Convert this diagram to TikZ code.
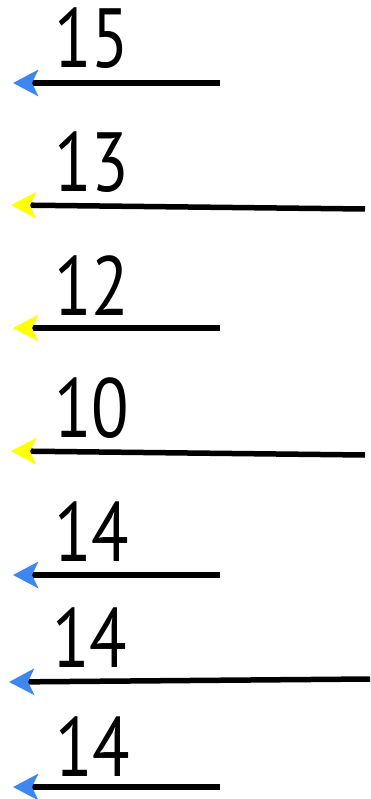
\documentclass[tikz,border=0pt]{standalone}
\usepackage{fontspec}
\setmainfont{PT Sans}
\usetikzlibrary{arrows.meta}
\definecolor{hblue}{HTML}{3F86F0}
\definecolor{hyellow}{HTML}{FFFF00}
\tikzset{
  num/.style={anchor=base west, inner sep=0pt, xscale=0.82, font=\fontsize{84}{84}\selectfont},
  arr/.style={line width=5.5pt, -{Stealth[length=25pt, width=26pt, inset=6pt, color=#1]}},
}
\begin{document}
\begin{tikzpicture}[x=1pt,y=-1pt]
\useasboundingbox (0,0) rectangle (370,799);
% labels
\node[num] (n1) at (54,68) {15};
\node[num] (n2) at (54,192) {13};
\node[num] (n3) at (54,315) {12};
\node[num] (n4) at (54,437) {10};
\node[num] (n5) at (54,561) {14};
\node[num] (n6) at (52,667) {14};
\node[num] (n7) at (55,776) {14};
% arrow ends
\coordinate (s1) at (220,83);  \coordinate (e1) at (13,83);
\coordinate (s2) at (365,209); \coordinate (e2) at (11,205);
\coordinate (s3) at (220,328); \coordinate (e3) at (13,328);
\coordinate (s4) at (365,455); \coordinate (e4) at (11,451);
\coordinate (s5) at (220,575); \coordinate (e5) at (13,575);
\coordinate (s6) at (370,679); \coordinate (e6) at (9,682);
\coordinate (s7) at (220,787); \coordinate (e7) at (13,787);
\draw[arr=hblue] (s1) -- (e1);
\draw[arr=hyellow] (s2) -- (e2);
\draw[arr=hyellow] (s3) -- (e3);
\draw[arr=hyellow] (s4) -- (e4);
\draw[arr=hblue] (s5) -- (e5);
\draw[arr=hblue] (s6) -- (e6);
\draw[arr=hblue] (s7) -- (e7);
\end{tikzpicture}
\end{document}
